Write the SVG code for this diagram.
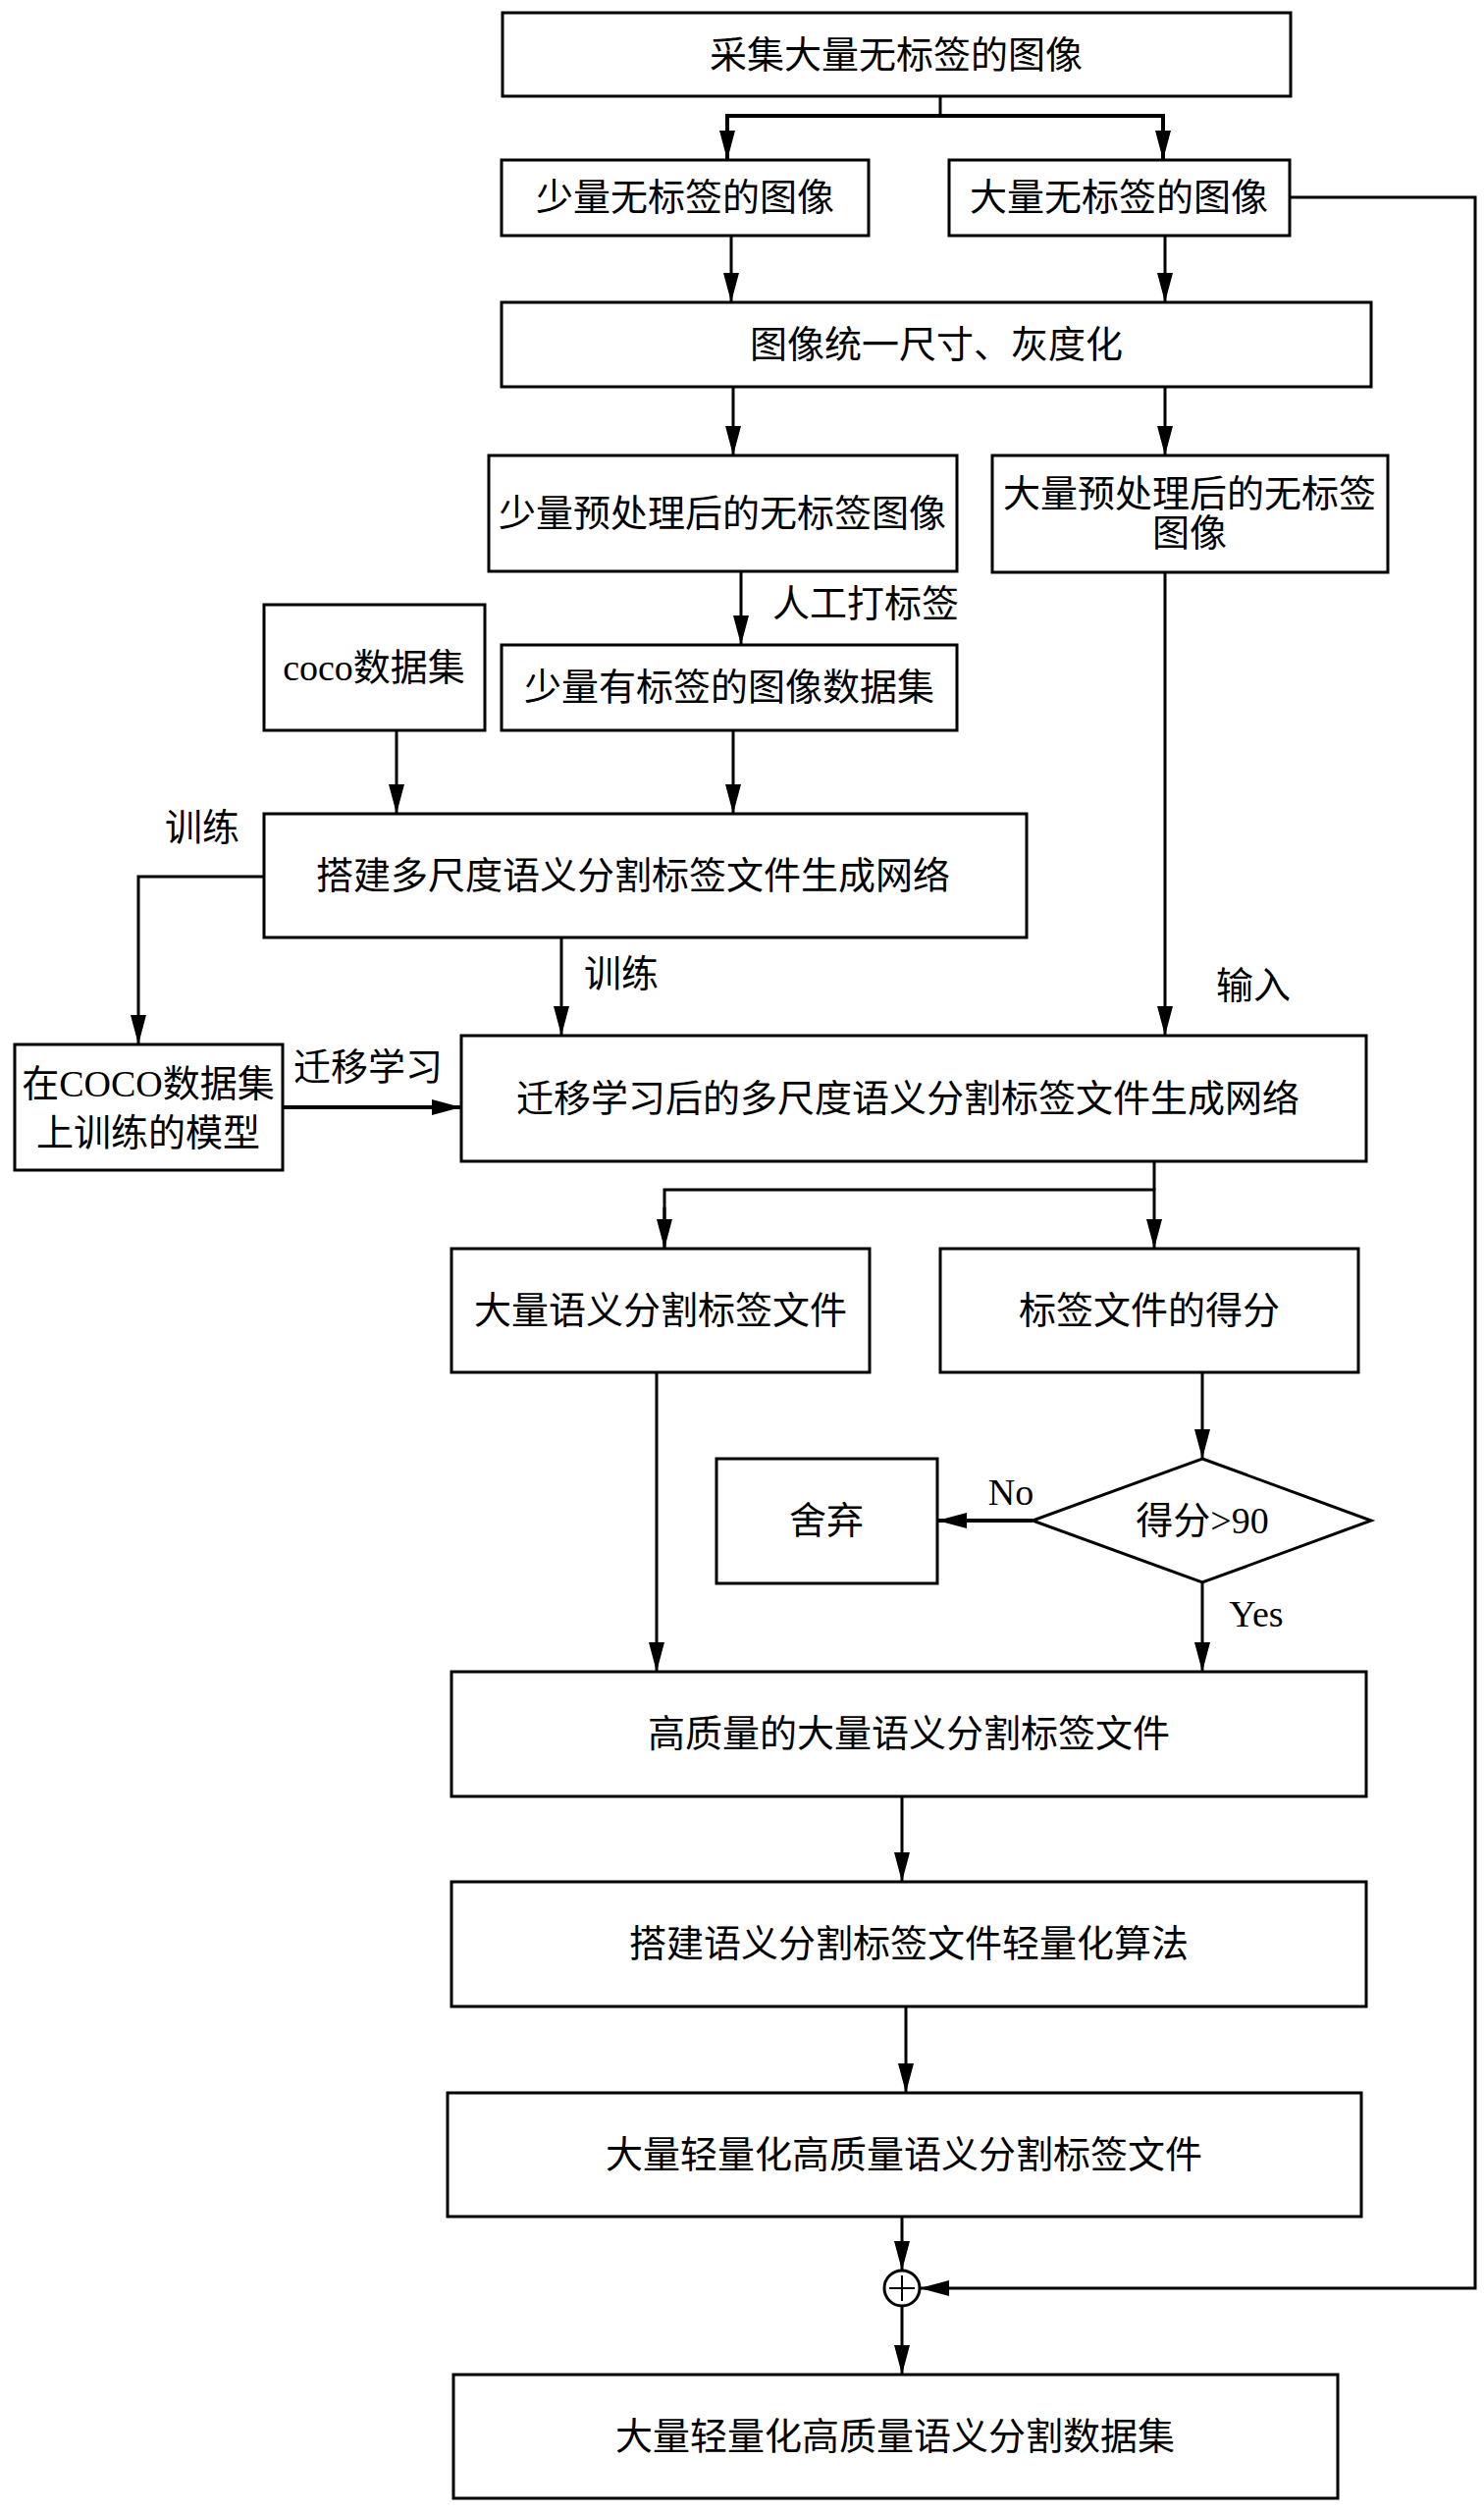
<svg xmlns="http://www.w3.org/2000/svg" width="1512" height="2560" viewBox="0 0 1512 2560">
<style>
rect,polygon.d{fill:#fff;stroke:#000;stroke-width:3}
text{font-family:"Liberation Serif","Noto Sans CJK SC",serif;font-size:38px;fill:#000;text-anchor:middle;dominant-baseline:central}
.c path,.c line,.c polyline{fill:none;stroke:#000;stroke-width:3}
</style>
<defs><marker id="a" viewBox="0 0 10 10" refX="10" refY="5" markerWidth="10" markerHeight="10" markerUnits="userSpaceOnUse" orient="auto"><path d="M0,0L10,5L0,10z" fill="#000"/></marker>
<marker id="A" viewBox="0 0 30 16" refX="30" refY="8" markerWidth="30" markerHeight="16" markerUnits="userSpaceOnUse" orient="auto"><path d="M0,0L30,8L0,16z" fill="#000"/></marker></defs>
<g id="n1"><rect x="512" y="13" width="803" height="85"/><text x="913" y="56">采集大量无标签的图像</text></g>
<g id="n2"><rect x="511" y="163" width="374" height="77"/><text x="698" y="201">少量无标签的图像</text></g>
<g id="n3"><rect x="967" y="163" width="347" height="77"/><text x="1140" y="201">大量无标签的图像</text></g>
<g id="n4"><rect x="511" y="308" width="886" height="86"/><text x="954" y="351">图像统一尺寸、灰度化</text></g>
<g id="n5"><rect x="498" y="464" width="477" height="118"/><text x="736" y="523">少量预处理后的无标签图像</text></g>
<g id="n6"><rect x="1011" y="464" width="403" height="119"/><text x="1212" y="503">大量预处理后的无标签</text><text x="1212" y="543">图像</text></g>
<g id="n7"><rect x="269" y="616" width="225" height="128"/><text x="381" y="680">coco数据集</text></g>
<g id="n8"><rect x="511" y="657" width="464" height="87"/><text x="743" y="700">少量有标签的图像数据集</text></g>
<g id="n9"><rect x="269" y="829" width="777" height="126"/><text x="645" y="892">搭建多尺度语义分割标签文件生成网络</text></g>
<g id="n10"><rect x="15" y="1064" width="273" height="128"/><text x="151" y="1104">在COCO数据集</text><text x="151" y="1154">上训练的模型</text></g>
<g id="n11"><rect x="470" y="1055" width="922" height="128"/><text x="925" y="1119">迁移学习后的多尺度语义分割标签文件生成网络</text></g>
<g id="n12"><rect x="460" y="1272" width="426" height="126"/><text x="673" y="1335">大量语义分割标签文件</text></g>
<g id="n13"><rect x="958" y="1272" width="426" height="126"/><text x="1171" y="1335">标签文件的得分</text></g>
<g id="n14"><polygon class="d" points="1225,1486 1397,1549 1225,1612 1052,1549"/><text x="1225" y="1549">得分&gt;90</text></g>
<g id="n15"><rect x="730" y="1486" width="225" height="127"/><text x="842" y="1549">舍弃</text></g>
<g id="n16"><rect x="460" y="1703" width="932" height="127"/><text x="926" y="1766">高质量的大量语义分割标签文件</text></g>
<g id="n17"><rect x="460" y="1917" width="932" height="127"/><text x="926" y="1980">搭建语义分割标签文件轻量化算法</text></g>
<g id="n18"><rect x="456" y="2132" width="931" height="126"/><text x="921" y="2195">大量轻量化高质量语义分割标签文件</text></g>
<g id="n19"><rect x="462" y="2419" width="901" height="126"/><text x="912" y="2482">大量轻量化高质量语义分割数据集</text></g>
<g id="sum"><circle cx="919" cy="2331" r="18" fill="#fff" stroke="#000" stroke-width="3"/><line x1="919" y1="2318" x2="919" y2="2344" stroke="#000" stroke-width="2"/><line x1="906" y1="2331" x2="932" y2="2331" stroke="#000" stroke-width="2"/></g>
<g class="c">
<line x1="958" y1="98" x2="958" y2="118"/>
<polyline points="741,163 741,118 1185,118 1185,163" style="stroke-width:4;marker-end:none"/>
<line x1="741" y1="130" x2="741" y2="163" marker-end="url(#A)"/>
<line x1="1185" y1="130" x2="1185" y2="163" marker-end="url(#A)"/>
<line x1="745" y1="240" x2="745" y2="308" marker-end="url(#A)"/>
<line x1="1187" y1="240" x2="1187" y2="308" marker-end="url(#A)"/>
<line x1="747" y1="394" x2="747" y2="464" marker-end="url(#A)"/>
<line x1="1187" y1="394" x2="1187" y2="464" marker-end="url(#A)"/>
<line x1="755" y1="582" x2="755" y2="657" marker-end="url(#A)"/>
<line x1="404" y1="744" x2="404" y2="829" marker-end="url(#A)"/>
<line x1="747" y1="744" x2="747" y2="829" marker-end="url(#A)"/>
<polyline points="269,893 141,893 141,1064" marker-end="url(#A)"/>
<line x1="572" y1="955" x2="572" y2="1055" marker-end="url(#A)"/>
<line x1="1187" y1="583" x2="1187" y2="1055" marker-end="url(#A)"/>
<line x1="288" y1="1128" x2="470" y2="1128" marker-end="url(#A)" style="stroke-width:4"/>
<line x1="1176" y1="1183" x2="1176" y2="1212"/>
<polyline points="677,1272 677,1212 1176,1212 1176,1272" marker-end="url(#A)"/>
<line x1="677" y1="1230" x2="677" y2="1272" marker-end="url(#A)"/>
<line x1="1225" y1="1398" x2="1225" y2="1486" marker-end="url(#A)"/>
<line x1="1052" y1="1549" x2="955" y2="1549" marker-end="url(#A)" style="stroke-width:4"/>
<line x1="1225" y1="1612" x2="1225" y2="1703" marker-end="url(#A)"/>
<line x1="669" y1="1398" x2="669" y2="1703" marker-end="url(#A)"/>
<line x1="919" y1="1830" x2="919" y2="1917" marker-end="url(#A)"/>
<line x1="923" y1="2044" x2="923" y2="2132" marker-end="url(#A)"/>
<line x1="919" y1="2258" x2="919" y2="2313" marker-end="url(#A)"/>
<polyline points="1314,201 1503,201 1503,2331 937,2331" marker-end="url(#A)"/>
<line x1="919" y1="2349" x2="919" y2="2419" marker-end="url(#A)"/>
</g>
<g id="labels">
<text x="882" y="615">人工打标签</text>
<text x="206" y="843">训练</text>
<text x="633" y="992">训练</text>
<text x="1277" y="1004">输入</text>
<text x="375" y="1087">迁移学习</text>
<text x="1030" y="1520">No</text>
<text x="1280" y="1644">Yes</text>
</g>
</svg>
